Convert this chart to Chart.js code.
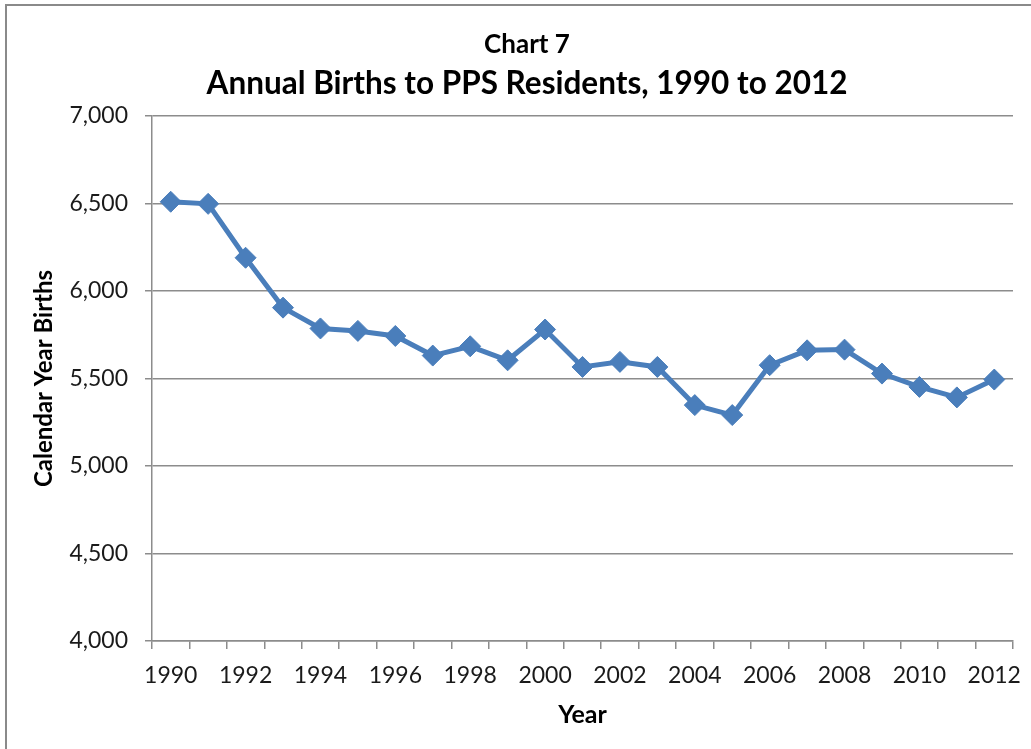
<!DOCTYPE html>
<html>
<head>
<meta charset="utf-8">
<script src="https://cdn.jsdelivr.net/npm/chart.js@4"></script>
<style>
  html, body { margin: 0; padding: 0; background: #fff; overflow: hidden; }
  #frame {
    position: absolute; left: 5px; top: 4px; width: 1100px; height: 800px;
    border-top: 2px solid #8a8a8a; border-left: 2px solid #8a8a8a;
  }
  #wrap { position: absolute; left: 0; top: 0; width: 1031px; height: 749px; }
</style>
</head>
<body>
<div id="frame"></div>
<div id="wrap"><canvas id="births"></canvas></div>
<script>
// data
const years = ['1990','1991','1992','1993','1994','1995','1996','1997','1998','1999','2000',
  '2001','2002','2003','2004','2005','2006','2007','2008','2009','2010','2011','2012'];
const births = [6510, 6498, 6190, 5905, 5786, 5772, 5743, 5631, 5684, 5604, 5780,
  5566, 5595, 5566, 5348, 5291, 5576, 5661, 5665, 5528, 5452, 5392, 5494];
const yTicks = [4000, 4500, 5000, 5500, 6000, 6500, 7000];

const blue = '#4a7ebb';
const grey = '#8c8c8c';
const font = 'Lato, "Open Sans", sans-serif';

Chart.defaults.font.family = font;
Chart.defaults.color = '#1a1a1a';

const ctx = document.getElementById('births').getContext('2d');
new Chart(ctx, {
  type: 'line',
  data: {
    labels: years,
    datasets: [{
      label: 'Calendar Year Births',
      data: births,
      borderColor: blue,
      backgroundColor: blue,
      borderWidth: 5,
      tension: 0,
      pointStyle: 'rectRot',
      pointRadius: 10.5,
      pointHoverRadius: 10.5,
      pointBackgroundColor: blue,
      pointBorderColor: blue,
      pointBorderWidth: 1
    }]
  },
  options: {
    responsive: true,
    maintainAspectRatio: false,
    animation: false,
    layout: { padding: { left: 41, right: 18, top: 0, bottom: 0 } },
    plugins: {
      legend: { display: false },
      tooltip: { enabled: false },
      title: {
        display: true,
        text: 'Chart 7',
        color: '#000',
        font: { size: 26, weight: 'bold' },
        padding: { top: 29, bottom: 2 }
      },
      subtitle: {
        display: true,
        text: 'Annual Births to PPS Residents, 1990 to 2012',
        color: '#000',
        font: { size: 31.5, weight: 'bold' },
        padding: { top: 3, bottom: 13 }
      }
    },
    scales: {
      x: {
        type: 'category',
        offset: true,
        grid: {
          offset: true,
          drawOnChartArea: false,
          drawTicks: true,
          tickLength: 8,
          color: grey,
          lineWidth: 1.5
        },
        border: { color: grey, width: 1.5 },
        ticks: {
          autoSkip: false,
          maxRotation: 0,
          padding: 13,
          font: { size: 23 },
          callback: function (val, i) {
            return i % 2 === 0 ? this.getLabelForValue(val) : '';
          }
        },
        title: {
          display: true,
          text: 'Year',
          color: '#000',
          font: { size: 25, weight: 'bold' },
          padding: { top: 0, bottom: 19 }
        },
        afterFit: function (scale) {
          scale.height = 108;
          scale.paddingLeft = 0;
          scale.paddingRight = 0;
        }
      },
      y: {
        min: 4000,
        max: 7000,
        afterBuildTicks: function (scale) {
          scale.ticks = yTicks.map(v => ({ value: v }));
        },
        grid: {
          color: grey,
          lineWidth: 1.5,
          drawTicks: true,
          tickLength: 7
        },
        border: { color: grey, width: 1.5 },
        ticks: {
          padding: 17,
          font: { size: 23 },
          callback: v => v.toLocaleString('en-US')
        },
        title: {
          display: true,
          text: 'Calendar Year Births',
          color: '#000',
          font: { size: 24, weight: 'bold' },
          padding: { top: -11, bottom: 0 }
        },
        afterFit: function (scale) { scale.width = 111; }
      }
    }
  }
});
</script>
</body>
</html>
